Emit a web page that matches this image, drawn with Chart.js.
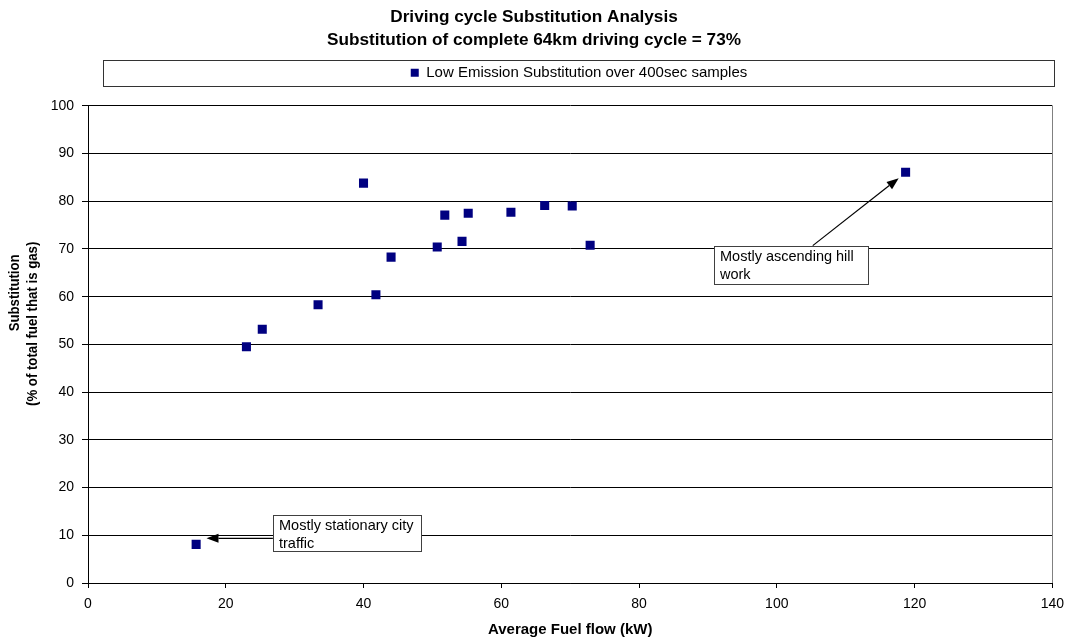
<!DOCTYPE html>
<html>
<head>
<meta charset="utf-8">
<script src="https://cdn.jsdelivr.net/npm/chart.js@4.4.1/dist/chart.umd.min.js"></script>
<style>
  html, body { margin: 0; padding: 0; background: #fff; }
  #wrap { width: 1072px; height: 638px; }
</style>
</head>
<body>
<div id="wrap"><canvas id="c" width="1072" height="638"></canvas></div>
<script>
// ---- Data ----
const fuelFlow     = [15.7, 23.0, 25.3, 33.4, 40.0, 41.8, 44.0, 50.7, 51.8, 54.3, 55.2, 61.4, 66.3, 70.3, 72.9, 118.7];
const substitution = [8.1, 49.5, 53.2, 58.3, 83.8, 60.4, 68.3, 70.4, 77.1, 71.6, 77.5, 77.7, 79.1, 79.0, 70.8, 86.1];
const seriesName   = 'Low Emission Substitution over 400sec samples';
const titleLines   = ['Driving cycle Substitution Analysis', 'Substitution of complete 64km driving cycle = 73%'];
const xAxisTitle   = 'Average Fuel flow (kW)';
const yAxisTitle   = ['Substitution', '(% of total fuel that is gas)'];
const xRange       = [0, 140, 20];
const yRange       = [0, 100, 10];

// Callout notes (text lines, box corners and arrow in data units)
const noteTexts  = [['Mostly stationary city', 'traffic'], ['Mostly ascending hill', 'work']];
const noteBoxes  = [[26.84, 14.26, 48.31, 6.77], [90.86, 70.71, 113.2, 62.62]];
const noteArrows = [[26.84, 9.37, 17.2, 9.37], [105.22, 70.71, 117.7, 84.84]];

const FONT = "'Liberation Sans', Arial, Helvetica, sans-serif";
Chart.defaults.font.family = FONT;
Chart.defaults.color = '#000';

const helper = {
  id: 'helper',
  beforeInit(chart) {
    const fit = chart.legend.fit;
    chart.legend.fit = function () { fit.call(this); this.height += 15.5; };
  },
  afterLayout(chart) {
    chart.titleBlock.left = 0; chart.titleBlock.right = 1068;
    chart.legend.left = 103; chart.legend.right = 1055;
  },
  beforeDraw(chart) {
    const ctx = chart.ctx;
    ctx.save();
    ctx.fillStyle = '#fff';
    ctx.fillRect(0, 0, chart.width, chart.height);
    ctx.restore();
  },
  afterDraw(chart) {
    const ctx = chart.ctx;
    const xs = chart.scales.x, ys = chart.scales.y;
    const a = chart.chartArea;
    ctx.save();
    // right border of plot area
    ctx.strokeStyle = '#808080';
    ctx.lineWidth = 1;
    ctx.beginPath();
    ctx.moveTo(Math.round(a.right) + 0.5, a.top);
    ctx.lineTo(Math.round(a.right) + 0.5, a.bottom);
    ctx.stroke();
    // legend frame
    const lg = chart.legend;
    const cy = lg.top + 19.6;
    ctx.strokeStyle = '#333';
    ctx.strokeRect(103.5, Math.round(cy - 13) + 0.5, 951, 26);
    // y axis title (two lines, offset like the reference)
    ctx.fillStyle = '#000';
    ctx.font = 'bold 15px ' + FONT;
    ctx.textAlign = 'center';
    ctx.textBaseline = 'middle';
    const yTitlePos = [[15, a.top + 187], [32.5, a.top + 218]];
    yAxisTitle.forEach((line, k) => {
      ctx.save();
      ctx.translate(yTitlePos[k][0], yTitlePos[k][1]);
      ctx.rotate(-Math.PI / 2);
      ctx.scale(0.88, 1);
      ctx.fillText(line, 0, 0);
      ctx.restore();
    });
    // callouts
    noteBoxes.forEach((b, i) => {
      const l = Math.round(xs.getPixelForValue(b[0])) + 0.5;
      const t = Math.round(ys.getPixelForValue(b[1])) + 0.5;
      const r = Math.round(xs.getPixelForValue(b[2])) + 0.5;
      const btm = Math.round(ys.getPixelForValue(b[3])) + 0.5;
      // arrow
      const ar = noteArrows[i];
      const x1 = xs.getPixelForValue(ar[0]), y1 = ys.getPixelForValue(ar[1]);
      const x2 = xs.getPixelForValue(ar[2]), y2 = ys.getPixelForValue(ar[3]);
      const ang = Math.atan2(y2 - y1, x2 - x1);
      const hl = 12, hw = 4.5;
      ctx.strokeStyle = '#000';
      ctx.lineWidth = 1.2;
      ctx.beginPath();
      ctx.moveTo(x1, y1);
      ctx.lineTo(x2 - hl * Math.cos(ang), y2 - hl * Math.sin(ang));
      ctx.stroke();
      ctx.fillStyle = '#000';
      ctx.beginPath();
      ctx.moveTo(x2, y2);
      ctx.lineTo(x2 - hl * Math.cos(ang) - hw * Math.sin(ang), y2 - hl * Math.sin(ang) + hw * Math.cos(ang));
      ctx.lineTo(x2 - hl * Math.cos(ang) + hw * Math.sin(ang), y2 - hl * Math.sin(ang) - hw * Math.cos(ang));
      ctx.closePath();
      ctx.fill();
      // box
      ctx.fillStyle = '#fff';
      ctx.fillRect(l, t, r - l, btm - t);
      ctx.strokeStyle = '#404040';
      ctx.lineWidth = 1;
      ctx.strokeRect(l, t, r - l, btm - t);
      ctx.fillStyle = '#000';
      ctx.font = '14.5px ' + FONT;
      ctx.textBaseline = 'middle';
      ctx.textAlign = 'left';
      noteTexts[i].forEach((line, k) => {
        ctx.fillText(line, l + 5.5, t + 10 + k * 18);
      });
    });
    ctx.restore();
  }
};

new Chart(document.getElementById('c'), {
  type: 'scatter',
  data: {
    datasets: [{
      label: seriesName,
      data: fuelFlow.map((v, i) => ({ x: v, y: substitution[i] })),
      pointStyle: 'rect',
      pointRadius: 6.4,
      pointHoverRadius: 6.4,
      backgroundColor: '#000080',
      borderColor: '#000080',
      borderWidth: 0
    }]
  },
  options: {
    responsive: false,
    animation: false,
    devicePixelRatio: 1,
    events: [],
    layout: { padding: { left: 0, right: 19, top: 0, bottom: 0 } },
    plugins: {
      tooltip: { enabled: false },
      title: {
        display: true,
        text: titleLines,
        color: '#000',
        font: { size: 17.2, weight: 'bold', lineHeight: 1.33 },
        padding: { top: 5.5, bottom: 2 }
      },
      legend: {
        display: true,
        position: 'top',
        labels: {
          usePointStyle: true,
          pointStyle: 'rect',
          boxWidth: 8,
          boxHeight: 8,
          padding: 12.1,
          color: '#000',
          font: { size: 15 }
        }
      }
    },
    scales: {
      x: {
        type: 'linear',
        min: xRange[0], max: xRange[1],
        ticks: { stepSize: xRange[2], padding: 8, font: { size: 14 }, color: '#000', maxRotation: 0 },
        grid: { drawOnChartArea: false, drawTicks: true, tickLength: 5, color: '#000' },
        border: { color: '#000', width: 1 },
        title: { display: true, text: xAxisTitle, font: { size: 15, weight: 'bold', lineHeight: 1.1 }, padding: { top: 0, bottom: 0 }, color: '#000' },
        afterFit(s) { s.height = 55; }
      },
      y: {
        type: 'linear',
        min: yRange[0], max: yRange[1],
        ticks: { stepSize: yRange[2], padding: 8, font: { size: 14 }, color: '#000' },
        grid: { drawOnChartArea: true, drawTicks: true, tickLength: 6, color: '#000' },
        border: { color: '#000', width: 1 },
        title: { display: false, text: yAxisTitle },
        afterFit(s) { s.width = 88; }
      }
    }
  },
  plugins: [helper]
});
</script>
</body>
</html>
